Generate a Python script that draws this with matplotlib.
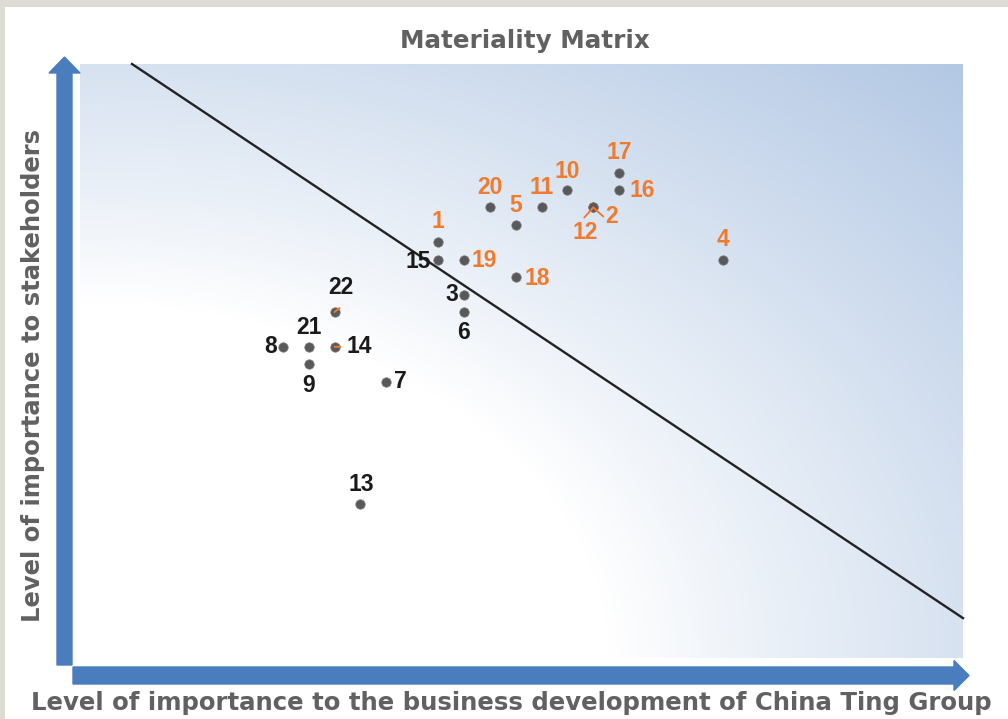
import matplotlib
matplotlib.use('Agg')
import matplotlib.pyplot as plt
import numpy as np
from matplotlib.patches import FancyArrow, Rectangle
from matplotlib.transforms import IdentityTransform

# Issue numbers and their positions on the matrix (grid units)
issues = ['1', '2', '3', '4', '5', '6', '7', '8', '9', '10', '11',
          '12', '13', '14', '15', '16', '17', '18', '19', '20', '21', '22']
business = [6, 12, 7, 17, 9, 7, 4, 0, 1, 11, 10,
            12, 3, 2, 6, 13, 13, 9, 7, 8, 1, 2]
stakeholders = [24, 26, 21, 23, 25, 20, 16, 18, 17, 27, 26,
                26, 9, 18, 23, 27, 28, 22, 23, 26, 18, 20]
material = [True, True, False, True, True, False, False, False, False, True, True,
            True, False, False, False, True, True, True, True, True, False, False]

# Dividing line of the matrix
line_x = [-5.83, 26.29]
line_y = [34.24, 2.42]

# label placement (dx, dy in px, ha)
label_pos = {
    '1': (0, -21, 'center'), '2': (12, 9, 'left'), '3': (-6, 0, 'right'),
    '4': (0, -20, 'center'), '5': (0, -19, 'center'), '6': (0, 21, 'center'),
    '7': (8, 0, 'left'), '8': (-6, 0, 'right'), '9': (0, 21, 'center'),
    '10': (0, -19, 'center'), '11': (0, -20, 'center'), '12': (-8, 25, 'center'),
    '13': (1, -19, 'center'), '14': (12, 0, 'left'), '15': (-7, 2, 'right'),
    '16': (10, 0, 'left'), '17': (0, -20, 'center'), '18': (9, 1, 'left'),
    '19': (8, 1, 'left'), '20': (0, -20, 'center'), '21': (0, -19, 'center'),
    '22': (6, -24, 'center'),
}

ORANGE = '#ee7b2e'
BLUE = '#4a7dbd'
GREY_TEXT = '#616161'

W, H = 1008, 719
fig = plt.figure(figsize=(W / 100, H / 100), dpi=100, facecolor='#dcdcd4')
pix = IdentityTransform()

# white panel
fig.add_artist(Rectangle((5, 0), W - 5, H - 7, transform=pix,
                         facecolor='white', edgecolor='none', zorder=0))

ax = fig.add_axes([80 / W, (H - 658) / H, 883 / W, 594 / H])
ax.set_xlim(-7.84, 26.29)
ax.set_ylim(0.13, 34.24)
ax.set_axis_off()

# radial gradient from the bottom-left corner
u, v = np.meshgrid(np.linspace(0, 1, 500), np.linspace(0, 1, 500))
r = np.sqrt(u ** 2 + v ** 2)
t = np.clip((r - 0.6) / (np.sqrt(2) - 0.6), 0, 1) ** 0.9
c0 = np.array([1.0, 1.0, 1.0])
c1 = np.array([179, 200, 228]) / 255
img = c0 + (c1 - c0) * t[..., None]
ax.imshow(img, extent=[0, 1, 0, 1], transform=ax.transAxes, origin='lower',
          aspect='auto', zorder=0, interpolation='bilinear')

ax.plot(line_x, line_y, color='#222222', lw=1.7, zorder=2, clip_on=False)

ax.scatter(business, stakeholders, s=46, color='#595959', edgecolor='#7a7a7a',
           linewidth=0.5, zorder=4)

for name, bx, sy, mat in zip(issues, business, stakeholders, material):
    dx, dy, ha = label_pos[name]
    col = ORANGE if mat else '#1a1a1a'
    ax.annotate(name, (bx, sy), xytext=(dx * 0.72, -dy * 0.72),
                textcoords='offset points', ha=ha, va='center',
                fontsize=16.5, fontweight='bold', color=col,
                family='Liberation Sans', zorder=5)


def leader(name, ddx, ddy):
    k = issues.index(name)
    ax.annotate('', xy=(business[k], stakeholders[k]),
                xytext=(ddx * 0.72, -ddy * 0.72), textcoords='offset points',
                arrowprops=dict(arrowstyle='-', color=ORANGE, lw=1.4,
                                shrinkA=0, shrinkB=0), zorder=5)


# small orange leader marks
leader('12', -9, 10)
leader('12', 10, 9)
leader('14', 6, 0)
leader('22', 5, -4)

# axis arrows
fig.add_artist(FancyArrow(64.5, H - 665, 0, 665 - 57, width=15, head_width=31,
                          head_length=16, length_includes_head=True,
                          transform=pix, color=BLUE, zorder=3))
fig.add_artist(FancyArrow(73, H - 675.5, 969 - 73, 0, width=17, head_width=30,
                          head_length=15, length_includes_head=True,
                          transform=pix, color=BLUE, zorder=3))

fig.text(525 / W, (H - 41) / H, 'Materiality Matrix', ha='center', va='center',
         fontsize=17.7, fontweight='bold', color=GREY_TEXT)
fig.text(33 / W, (H - 375) / H, 'Level of importance to stakeholders',
         rotation=90, ha='center', va='center', fontsize=17.5,
         fontweight='bold', color=GREY_TEXT)
fig.text(511 / W, (H - 703) / H,
         'Level of importance to the business development of China Ting Group',
         ha='center', va='center', fontsize=17.6, fontweight='bold',
         color=GREY_TEXT)

fig.savefig('out.png', dpi=100, facecolor=fig.get_facecolor())
